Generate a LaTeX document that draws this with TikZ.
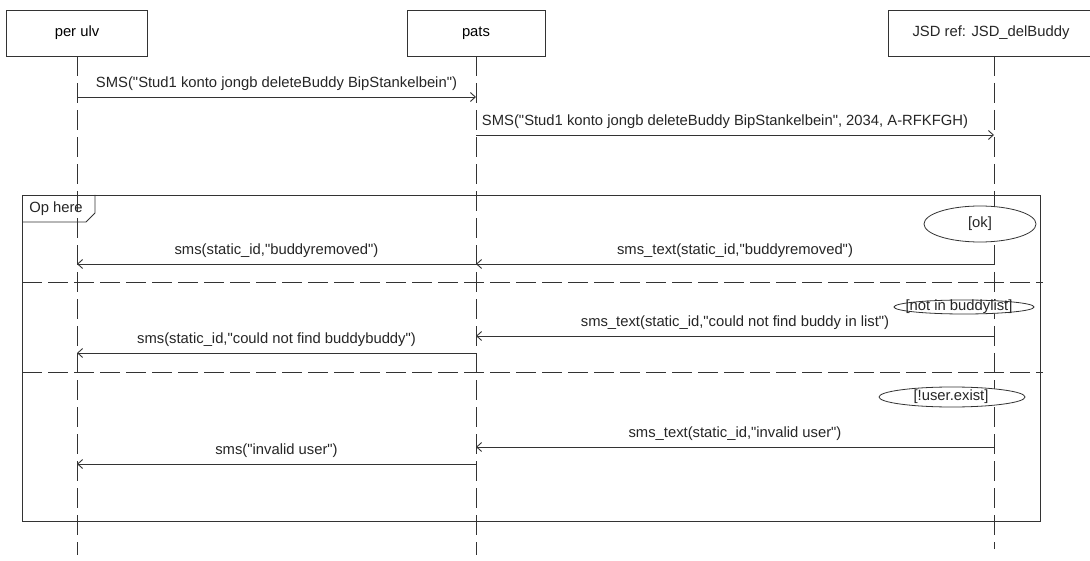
\documentclass[tikz,border=0pt]{standalone}
\usepackage{fontspec}
\newfontfamily\uifont{Liberation Sans}
\usetikzlibrary{arrows.meta}
\begin{document}
\begin{tikzpicture}[x=1pt,y=-1pt,
  ln/.style={line width=0.9pt,draw=black!80},
  actor/.style={draw=black!80,line width=0.9pt,fill=white,minimum height=46pt,inner sep=0pt,font=\uifont\fontsize{14.8}{17}\selectfont},
  life/.style={line width=0.9pt,draw=black!80,dash pattern=on 20pt off 7pt},
  msg/.style={line width=0.9pt,draw=black!80,-{Straight Barb[length=5pt,width=9pt,line width=0.9pt]}},
  lbl/.style={font=\uifont\fontsize{14.8}{17}\selectfont,inner sep=0pt,text=black!85},
  sep/.style={line width=0.9pt,draw=black!80,dash pattern=on 20pt off 6pt},
  guard/.style={line width=0.8pt,draw=black!80,fill=white}]
\useasboundingbox (0,0) rectangle (1090,561);
\fill[white] (0,0) rectangle (1090,561);

% lifeline end points
\coordinate (pu-end) at (77,555);
\coordinate (pa-end) at (476,555);
\coordinate (js-end) at (994,549);

% actors
\node[actor,minimum width=141pt] (pu) at (77,33) {per ulv};
\node[actor,minimum width=138pt] (pa) at (476,33) {pats};
\node[lbl] (js) at (991,33) {JSD ref: JSD\_delBuddy};
\coordinate (js-foot) at (994,56);
\draw[ln] (1092,10) -| (888,56) -- (1092,56);

% lifelines
\draw[life] (pu.south) -- (pu-end);
\draw[life] (pa.south) -- (pa-end);
\draw[life] (js-foot) -- (js-end);

% messages before the frame
\coordinate (m1a) at (77,97);  \coordinate (m1b) at (476,97);
\draw[msg] (m1a) -- (m1b) node[lbl,midway,above=6pt] (l1) {SMS("Stud1 konto jongb deleteBuddy BipStankelbein")};
\coordinate (m2a) at (476,135); \coordinate (m2b) at (994,135);
\draw[msg] (m2a) -- (m2b) node[lbl,midway,above=6pt,xshift=-10pt] (l2) {SMS("Stud1 konto jongb deleteBuddy BipStankelbein", 2034, A-RFKFGH)};

% frame
\coordinate (fr-nw) at (22,195);
\coordinate (fr-se) at (1040,521);
\draw[ln] (fr-nw) rectangle (fr-se);
\draw[ln] (22,222) -- (86,222) -- (95,213) -- (95,195);
\node[lbl] (op) at (56,209) {Op here};
% separators
\coordinate (s1a) at (22,282); \coordinate (s1b) at (1043,282);
\coordinate (s2a) at (22,372); \coordinate (s2b) at (1043,372);
\draw[sep] (s1a) -- (s1b);
\draw[sep] (s2a) -- (s2b);

% guards
\coordinate (g1c) at (980,224);
\draw[guard] (g1c) ellipse [x radius=56pt,y radius=18pt];
\node[lbl] (g1) at (g1c) {[ok]};
\coordinate (g2c) at (964,307);
\draw[guard] (g2c) ellipse [x radius=70pt,y radius=7pt];
\node[lbl] (g2) at (959,307) {[not in buddylist]};
\coordinate (g3c) at (952,397);
\draw[guard] (g3c) ellipse [x radius=73pt,y radius=10pt];
\node[lbl] (g3) at (951,397) {[!user.exist]};

% alternative 1
\coordinate (m3a) at (994,264); \coordinate (m3b) at (476,264);
\draw[msg] (m3a) -- (m3b) node[lbl,midway,above=6pt] (l3) {sms\_text(static\_id,"buddyremoved")};
\coordinate (m4a) at (476,264); \coordinate (m4b) at (77,264);
\draw[msg] (m4a) -- (m4b) node[lbl,midway,above=6pt] (l4) {sms(static\_id,"buddyremoved")};

% alternative 2
\coordinate (m5a) at (994,336); \coordinate (m5b) at (476,336);
\draw[msg] (m5a) -- (m5b) node[lbl,midway,above=6pt] (l5) {sms\_text(static\_id,"could not find buddy in list")};
\coordinate (m6a) at (476,353); \coordinate (m6b) at (77,353);
\draw[msg] (m6a) -- (m6b) node[lbl,midway,above=6pt] (l6) {sms(static\_id,"could not find buddybuddy")};

% alternative 3
\coordinate (m7a) at (994,447); \coordinate (m7b) at (476,447);
\draw[msg] (m7a) -- (m7b) node[lbl,midway,above=6pt] (l7) {sms\_text(static\_id,"invalid user")};
\coordinate (m8a) at (476,464); \coordinate (m8b) at (77,464);
\draw[msg] (m8a) -- (m8b) node[lbl,midway,above=6pt] (l8) {sms("invalid user")};
\end{tikzpicture}
\end{document}
